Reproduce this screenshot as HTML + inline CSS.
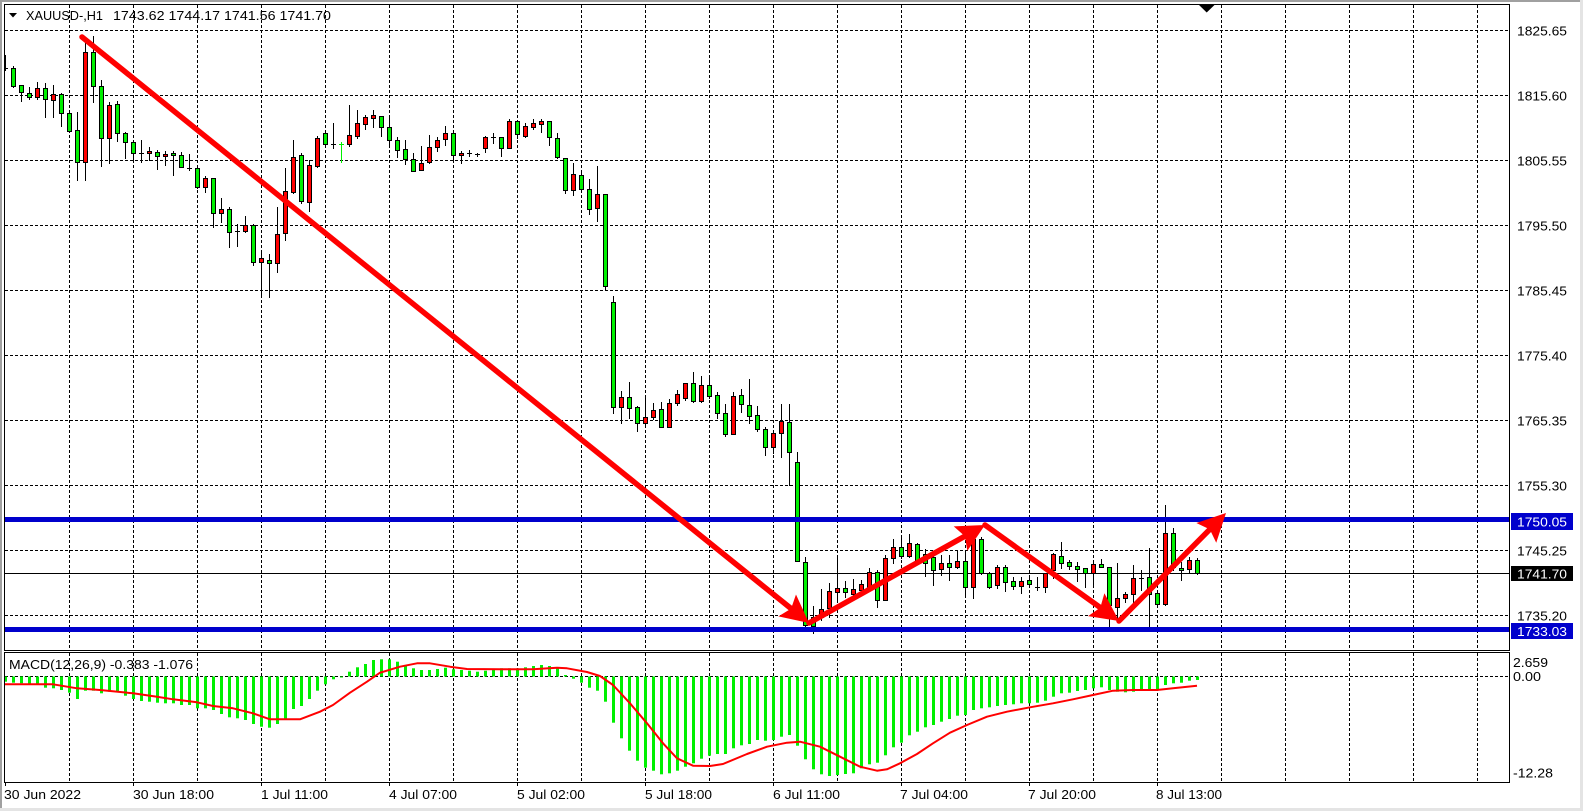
<!DOCTYPE html>
<html><head><meta charset="utf-8">
<style>
html,body{margin:0;padding:0;background:#fff;}
svg{display:block;}
text{font-family:"Liberation Sans",Arial,sans-serif;font-size:13px;fill:#000;}
</style></head>
<body>
<svg id="s" xmlns="http://www.w3.org/2000/svg" width="1583" height="811" viewBox="0 0 1583 811">
<rect x="0" y="0" width="1583" height="811" fill="#fff"/>
<rect x="0" y="0" width="1583" height="2" fill="#a0a0a0"/>
<rect x="0" y="0" width="2" height="811" fill="#a0a0a0"/>
<rect x="0" y="808" width="1583" height="3" fill="#e4e4e4"/>
<rect x="1580" y="0" width="3" height="811" fill="#e4e4e4"/>
<defs><clipPath id="cm"><rect x="5" y="5" width="1504" height="645"/></clipPath>
<clipPath id="cd"><rect x="5" y="653" width="1504" height="129"/></clipPath></defs>
<g id="grid" stroke="#000" stroke-width="1" stroke-dasharray="3,2" fill="none"></g>
<line x1="5" y1="573.5" x2="1509" y2="573.5" stroke="#000" stroke-width="1"/>
<g id="candles" clip-path="url(#cm)"></g>
<g id="macd" clip-path="url(#cd)"></g>
<line x1="5" y1="519.5" x2="1509" y2="519.5" stroke="#0000cc" stroke-width="5"/>
<line x1="5" y1="629.5" x2="1509" y2="629.5" stroke="#0000cc" stroke-width="5"/>
<g id="arrows" fill="#ff0000" stroke="none"></g>
<rect x="4.5" y="4.5" width="1505" height="646" fill="none" stroke="#000"/>
<rect x="4.5" y="652.5" width="1505" height="130" fill="none" stroke="#000"/>
<polygon points="9,13 17,13 13,17.5" fill="#000"/>
<text x="26" y="20" textLength="77" lengthAdjust="spacingAndGlyphs">XAUUSD-,H1</text>
<text x="113" y="20" textLength="218" lengthAdjust="spacingAndGlyphs">1743.62 1744.17 1741.56 1741.70</text>
<polygon points="1198.5,4.5 1215,4.5 1206.7,12.5" fill="#000"/>
<text x="9" y="669" textLength="184" lengthAdjust="spacingAndGlyphs">MACD(12,26,9) -0.383 -1.076</text>
<rect x="1511" y="513" width="62" height="17" fill="#0000cc"/>
<text x="1517" y="526.5" textLength="50" lengthAdjust="spacingAndGlyphs" style="fill:#fff">1750.05</text>
<rect x="1511" y="566" width="62" height="15" fill="#000"/>
<text x="1517" y="578.5" textLength="50" lengthAdjust="spacingAndGlyphs" style="fill:#fff">1741.70</text>
<rect x="1511" y="623" width="62" height="16" fill="#0000cc"/>
<text x="1517" y="636" textLength="50" lengthAdjust="spacingAndGlyphs" style="fill:#fff">1733.03</text>
<text x="1513" y="667" textLength="35" lengthAdjust="spacingAndGlyphs">2.659</text>
<text x="1513" y="681" textLength="28" lengthAdjust="spacingAndGlyphs">0.00</text>
<text x="1513" y="777.5" textLength="40" lengthAdjust="spacingAndGlyphs">-12.28</text>
<text x="1517" y="35.5" textLength="50" lengthAdjust="spacingAndGlyphs">1825.65</text>
<text x="1517" y="100.5" textLength="50" lengthAdjust="spacingAndGlyphs">1815.60</text>
<text x="1517" y="165.5" textLength="50" lengthAdjust="spacingAndGlyphs">1805.55</text>
<text x="1517" y="230.5" textLength="50" lengthAdjust="spacingAndGlyphs">1795.50</text>
<text x="1517" y="295.5" textLength="50" lengthAdjust="spacingAndGlyphs">1785.45</text>
<text x="1517" y="360.5" textLength="50" lengthAdjust="spacingAndGlyphs">1775.40</text>
<text x="1517" y="425.5" textLength="50" lengthAdjust="spacingAndGlyphs">1765.35</text>
<text x="1517" y="490.5" textLength="50" lengthAdjust="spacingAndGlyphs">1755.30</text>
<text x="1517" y="555.5" textLength="50" lengthAdjust="spacingAndGlyphs">1745.25</text>
<text x="1517" y="620.5" textLength="50" lengthAdjust="spacingAndGlyphs">1735.20</text>
<text x="4" y="799" textLength="77" lengthAdjust="spacingAndGlyphs">30 Jun 2022</text>
<text x="133" y="799" textLength="81" lengthAdjust="spacingAndGlyphs">30 Jun 18:00</text>
<text x="261" y="799" textLength="67" lengthAdjust="spacingAndGlyphs">1 Jul 11:00</text>
<text x="389" y="799" textLength="68" lengthAdjust="spacingAndGlyphs">4 Jul 07:00</text>
<text x="517" y="799" textLength="68" lengthAdjust="spacingAndGlyphs">5 Jul 02:00</text>
<text x="645" y="799" textLength="67" lengthAdjust="spacingAndGlyphs">5 Jul 18:00</text>
<text x="773" y="799" textLength="67" lengthAdjust="spacingAndGlyphs">6 Jul 11:00</text>
<text x="900" y="799" textLength="68" lengthAdjust="spacingAndGlyphs">7 Jul 04:00</text>
<text x="1028" y="799" textLength="68" lengthAdjust="spacingAndGlyphs">7 Jul 20:00</text>
<text x="1156" y="799" textLength="66" lengthAdjust="spacingAndGlyphs">8 Jul 13:00</text>
<g stroke="#000" stroke-width="1">
<line x1="5.5" y1="783" x2="5.5" y2="786"/><line x1="133.5" y1="783" x2="133.5" y2="786"/>
<line x1="261.5" y1="783" x2="261.5" y2="786"/><line x1="389.5" y1="783" x2="389.5" y2="786"/>
<line x1="517.5" y1="783" x2="517.5" y2="786"/><line x1="645.5" y1="783" x2="645.5" y2="786"/>
<line x1="773.5" y1="783" x2="773.5" y2="786"/><line x1="901.5" y1="783" x2="901.5" y2="786"/>
<line x1="1029.5" y1="783" x2="1029.5" y2="786"/><line x1="1157.5" y1="783" x2="1157.5" y2="786"/>
</g>
</svg>
<script>
(function(){
var NS="http://www.w3.org/2000/svg";
function el(p,n,a){var e=document.createElementNS(NS,n);for(var k in a)e.setAttribute(k,a[k]);p.appendChild(e);return e;}
var G="#00f000",R="#ff0000";
var g=document.getElementById("grid");
for(var k=0;k<=22;k++){var x=69.5+64*k;el(g,"line",{x1:x,y1:5,x2:x,y2:650});el(g,"line",{x1:x,y1:653,x2:x,y2:782});}
for(var k=0;k<=9;k++){var y=30.5+65*k;el(g,"line",{x1:5,y1:y,x2:1509,y2:y});}
el(g,"line",{x1:5,y1:676.5,x2:1509,y2:676.5});
var C=[
[55,70,68,68,'k'],[66,87,68,86,'g'],[85,101,85,92,'g'],[87,99,93,97,'g'],[82,99,88,97,'r'],
[83,117,88,99,'g'],[85,117,94,100,'r'],[93,126,94,113,'g'],[113,131,113,131,'g'],[112,180,130,162,'g'],
[38,180,52,162,'r'],[36,102,52,86,'g'],[80,166,86,138,'g'],[102,163,105,138,'r'],[101,141,104,133,'g'],
[132,158,133,142,'g'],[140,160,142,153,'g'],[140,162,153,153,'k'],[147,160,151,153,'r'],[150,169,152,156,'g'],
[151,165,154,156,'r'],[151,175,153,155,'g'],[152,167,155,167,'g'],[154,170,168,168,'k'],[167,188,168,187,'g'],
[176,192,178,187,'r'],[178,227,178,213,'g'],[198,222,209,213,'r'],[207,247,209,232,'g'],[224,246,231,231,'k'],
[216,232,225,231,'r'],[224,265,225,262,'g'],[250,294,258,262,'r'],[254,297,260,263,'g'],[207,272,234,263,'r'],
[168,240,191,233,'r'],[140,193,157,192,'r'],[153,203,155,201,'g'],[160,211,165,202,'r'],[136,167,138,166,'r'],
[133,144,133,144,'g'],[123,148,144,144,'k'],[142,162,144,144,'l'],[105,146,135,144,'r'],[110,138,123,136,'r'],
[115,129,117,124,'r'],[110,127,115,118,'r'],[116,136,116,127,'g'],[117,144,127,140,'g'],[137,157,140,150,'g'],
[140,164,149,159,'g'],[153,171,159,171,'g'],[146,170,163,170,'r'],[135,163,147,162,'r'],[137,151,140,147,'r'],
[126,145,133,139,'r'],[131,161,133,155,'g'],[151,163,153,155,'r'],[150,156,153,154,'k'],[153,156,154,154,'k'],
[136,152,137,148,'r'],[133,143,137,137,'k'],[137,156,137,148,'g'],[119,148,121,148,'r'],[120,138,121,134,'g'],
[123,137,126,136,'r'],[119,129,123,127,'r'],[119,132,121,124,'r'],[121,145,121,137,'g'],[133,158,138,157,'g'],
[158,193,158,190,'g'],[163,195,174,190,'r'],[173,192,175,189,'g'],[179,214,189,209,'g'],[166,221,194,208,'r'],
[194,290,194,286,'g'],[296,413,302,407,'g'],[391,423,397,407,'r'],[382,418,397,408,'g'],[406,431,407,423,'g'],
[395,425,417,423,'r'],[403,419,410,417,'r'],[402,427,409,427,'g'],[399,427,403,427,'r'],[390,405,394,403,'r'],
[383,400,383,398,'r'],[372,402,383,401,'g'],[376,402,385,401,'r'],[375,398,385,396,'g'],[392,418,395,413,'g'],
[404,436,413,434,'g'],[392,434,396,434,'r'],[389,412,395,404,'g'],[379,423,405,416,'g'],[406,431,415,429,'g'],
[427,455,429,447,'g'],[433,453,433,447,'r'],[404,457,421,433,'r'],[404,485,422,452,'g'],[452,561,462,561,'g'],
[557,626,562,625,'g'],[606,633,617,626,'g'],[589,620,609,617,'r'],[583,617,591,608,'r'],[557,600,588,592,'r'],
[581,597,588,592,'g'],[579,595,589,594,'r'],[580,593,584,590,'r'],[568,588,572,588,'r'],[570,607,572,600,'g'],
[555,600,558,600,'r'],[539,563,547,558,'r'],[537,558,547,556,'g'],[534,557,543,556,'r'],[543,563,544,561,'g'],
[549,576,554,563,'g'],[555,585,557,570,'g'],[555,575,563,569,'r'],[555,580,563,567,'g'],[550,568,561,567,'r'],
[550,597,561,587,'g'],[535,598,539,587,'r'],[537,574,539,573,'g'],[572,588,573,587,'g'],[565,588,567,585,'r'],
[565,591,567,582,'g'],[577,589,581,586,'g'],[577,593,581,586,'r'],[577,586,580,584,'g'],[577,590,587,587,'k'],
[573,592,573,587,'r'],[553,578,554,570,'r'],[542,568,556,563,'g'],[560,569,562,566,'g'],[562,581,566,569,'g'],
[568,587,568,573,'g'],[563,584,564,573,'r'],[559,567,564,567,'g'],[567,627,567,605,'g'],[563,622,598,607,'r'],
[592,602,594,598,'r'],[565,603,578,594,'r'],[570,590,578,578,'k'],[548,627,577,594,'g'],[593,605,593,604,'g'],
[505,605,533,604,'r'],[528,570,533,567,'g'],[562,580,568,570,'g'],[557,573,560,569,'r'],[558,574,560,573,'g']
];
var cg=document.getElementById("candles");
for(var i=0;i<C.length;i++){
 var d=C[i],c=5+8*i,h=Math.round(d[0]),l=Math.round(d[1]),t=Math.round(d[2]),b=Math.round(d[3]),col=d[4];
 var wc=(col==='l')?"#00f000":"#000";
 el(cg,"line",{x1:c+0.5,y1:h,x2:c+0.5,y2:l+1,stroke:wc,"stroke-width":1});
 if(col==='k'||col==='l'){
  el(cg,"line",{x1:c-2,y1:t+0.5,x2:c+3,y2:t+0.5,stroke:wc,"stroke-width":1});
 } else {
  var hh=Math.max(1,b-t);
  el(cg,"rect",{x:c-1.5,y:t+0.5,width:4,height:hh,fill:(col==='g'?G:R),stroke:"#000","stroke-width":1});
 }
}
var H=[681.7,682.7,683.3,685,685,687.7,688.3,690,692.7,699,
690.7,690.7,693.3,691.7,691.7,695.7,699,701,701.7,702.7,
703.3,703.3,705,705,708.3,708.3,710,714,717.3,718.3,
720,724,726.7,727.7,724,719.3,709,706,699,690.7,
684.3,679.3,676.7,671.7,667.3,664,660,659.3,659.3,661.7,
666,668.3,670,670,669,667.7,669.3,670,670.7,671.7,
670.7,670,668.3,668.3,668.3,667.3,666,665,666,668.3,
675,678.7,682.7,687.7,690.7,701.7,722.7,738.3,750.7,760.7,
767.7,770.7,774.3,773.3,770.7,766.7,763.3,758.7,755.7,754,
754,748.3,745.3,744,740,740.7,740,736.7,735,745.7,
759.3,769.3,774.3,776,775,774,773.3,768.3,764.3,762.7,
755.3,747.3,742.7,735.3,731.7,727.3,725,721.7,719,715.7,
715,710,708.3,707.3,706,705,704.3,703.3,703.3,702.7,
700.7,696.7,693.3,692.7,691,690,688.3,687.3,690,691.7,
692.3,691.7,690,690.7,690,685,683.3,682.7,680.7,680];
var mg=document.getElementById("macd");
var Z=676.5;
for(var i=0;i<H.length;i++){
 var c=5+8*i,v=H[i],y1=Math.min(Z,v),y2=Math.max(Z,v);
 if(y2-y1<1){y2=y1+1;}
 el(mg,"rect",{x:c-1,y:y1,width:3,height:y2-y1,fill:"#00f000"});
}
var S=[[5,684.3],[53,684.3],[77,688.3],[100,690],[133,693.3],[157,696.7],[173,699.3],[197,702.3],[213,706],[233,708.3],[253,713.3],[270,719.3],[300,719.3],[320,711.7],[333,705],[350,692.7],[367,681.7],[380,672.7],[400,666.7],
[417,663.3],[430,663.3],[450,666.7],[467,669],[500,669.3],[533,669.3],[557,667.7],[567,668.3],[587,672],[600,676],[613,685],[630,703.3],[647,723.3],[663,743.3],[677,758.3],[693,765.7],[710,766],[723,764],[747,754],[767,746.7],[787,742.7],[800,741.7],
[820,746.7],[840,756.7],[860,766.7],[877,770.7],[887,769.3],[900,763.3],[917,754],[933,743.3],[950,732.7],[967,725],[987,716.7],[1007,711.7],[1030,707.3],[1053,703.3],[1073,699.3],[1093,695],[1113,690.7],[1133,690],[1157,690],[1173,688.3],[1197,685.7]];
el(mg,"polyline",{points:S.map(function(p){return p[0]+","+p[1];}).join(" "),fill:"none",stroke:"#ff0000","stroke-width":2,"stroke-linejoin":"round"});
var ag=document.getElementById("arrows");
function arrow(x1,y1,x2,y2){
 var dx=x2-x1,dy=y2-y1,L=Math.sqrt(dx*dx+dy*dy),ux=dx/L,uy=dy/L,px=-uy,py=ux,HL=28,HW=14;
 var bx=x2-ux*HL,by=y2-uy*HL;
 el(ag,"line",{x1:x1,y1:y1,x2:bx+ux*4,y2:by+uy*4,stroke:"#ff0000","stroke-width":5.5,"stroke-linecap":"round"});
 el(ag,"polygon",{points:x2+","+y2+" "+(bx+px*HW)+","+(by+py*HW)+" "+(bx+ux*5)+","+(by+uy*5)+" "+(bx-px*HW)+","+(by-py*HW)});
}
arrow(82,37,809,623);
arrow(809,623,985,525);
arrow(985,525,1119,621);
arrow(1119,621,1226,513);
})();
</script>
</body></html>
